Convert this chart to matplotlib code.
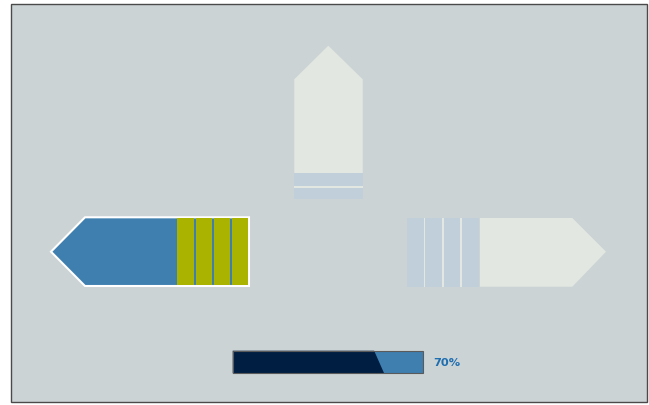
import matplotlib.pyplot as plt
from matplotlib.patches import Polygon, Rectangle

# infographic data
left_stripes = 4      # olive segments on the left arrow
right_stripes = 4     # blue segments on the right arrow
top_stripes = 2       # blue segments on the top arrow
progress = 0.70       # progress bar value
progress_label = "70%"

BG = "#CCD3D5"
BLUE = "#3F7FB0"
OLIVE = "#AAB300"
PALE = "#E2E7E1"
LBLUE = "#C0CFDA"
NAVY = "#001E42"

fig = plt.figure(figsize=(6.49, 4.05), dpi=100)
ax = fig.add_axes([0, 0, 1, 1])
ax.set_xlim(0, 649)
ax.set_ylim(405, 0)
ax.axis("off")

# panel
ax.add_patch(Rectangle((10.5, 3.5), 636, 398, facecolor=BG, edgecolor="#4a4a4a", lw=1))

# left arrow
top, bot, mid = 217.3, 286, 251.7
ax.add_patch(Polygon([(51, mid), (85, top), (249, top), (249, bot), (85, bot)],
                     closed=True, facecolor=BLUE, edgecolor="white", lw=1.5, joinstyle="miter"))
x0, x1 = 177, 249
w = (x1 - x0) / left_stripes
for i in range(left_stripes):
    ax.add_patch(Rectangle((x0 + i * w + (0.6 if i else 0), top + 0.8), w - (0.6 if i else 0) - 0.6, bot - top - 1.6,
                           facecolor=OLIVE, edgecolor="none"))

# right arrow
top, bot = 218, 286.7
ax.add_patch(Polygon([(480, top), (572.3, top), (606, mid), (572.3, bot), (480, bot)],
                     closed=True, facecolor=PALE, edgecolor="none"))
x0, x1 = 407, 480
w = (x1 - x0) / right_stripes
for i in range(right_stripes):
    ax.add_patch(Rectangle((x0 + i * w, top), w - 1.4, bot - top, facecolor=LBLUE, edgecolor="none"))
    if i:
        ax.add_patch(Rectangle((x0 + i * w - 1.4, top), 1.4, bot - top, facecolor=PALE, edgecolor="none"))

# top arrow
xl, xr = 294.3, 362.7
ax.add_patch(Polygon([(xl, 173.3), (xl, 79.3), (328.3, 45.7), (xr, 79.3), (xr, 173.3)],
                     closed=True, facecolor=PALE, edgecolor="none"))
y0, y1 = 173.3, 198.7
h = (y1 - y0) / top_stripes
for i in range(top_stripes):
    ax.add_patch(Rectangle((xl, y0 + i * h + (1.7 if i else 0)), xr - xl, h - (1.7 if i else 0),
                           facecolor=LBLUE, edgecolor="none"))
    if i:
        ax.add_patch(Rectangle((xl, y0 + i * h), xr - xl, 1.7, facecolor=PALE, edgecolor="none"))

# progress bar
bx0, bx1, by0, by1 = 232.7, 423.3, 350.7, 373.3
ax.add_patch(Rectangle((bx0, by0), bx1 - bx0, by1 - by0, facecolor=BLUE, edgecolor="none"))
edge = bx0 + progress * (bx1 - bx0) + 13
ax.add_patch(Polygon([(bx0, by0), (edge - 5, by0), (edge + 5, by1), (bx0, by1)],
                     closed=True, facecolor=NAVY, edgecolor="none"))
ax.add_patch(Rectangle((bx0, by0), bx1 - bx0, by1 - by0, facecolor="none", edgecolor="#5a5a5a", lw=0.8))
ax.text(433, 362.5, progress_label, color="#1F6EB0", fontsize=8.2, fontweight="bold",
        va="center", ha="left", family="DejaVu Sans")

fig.savefig("out.png", dpi=100)
